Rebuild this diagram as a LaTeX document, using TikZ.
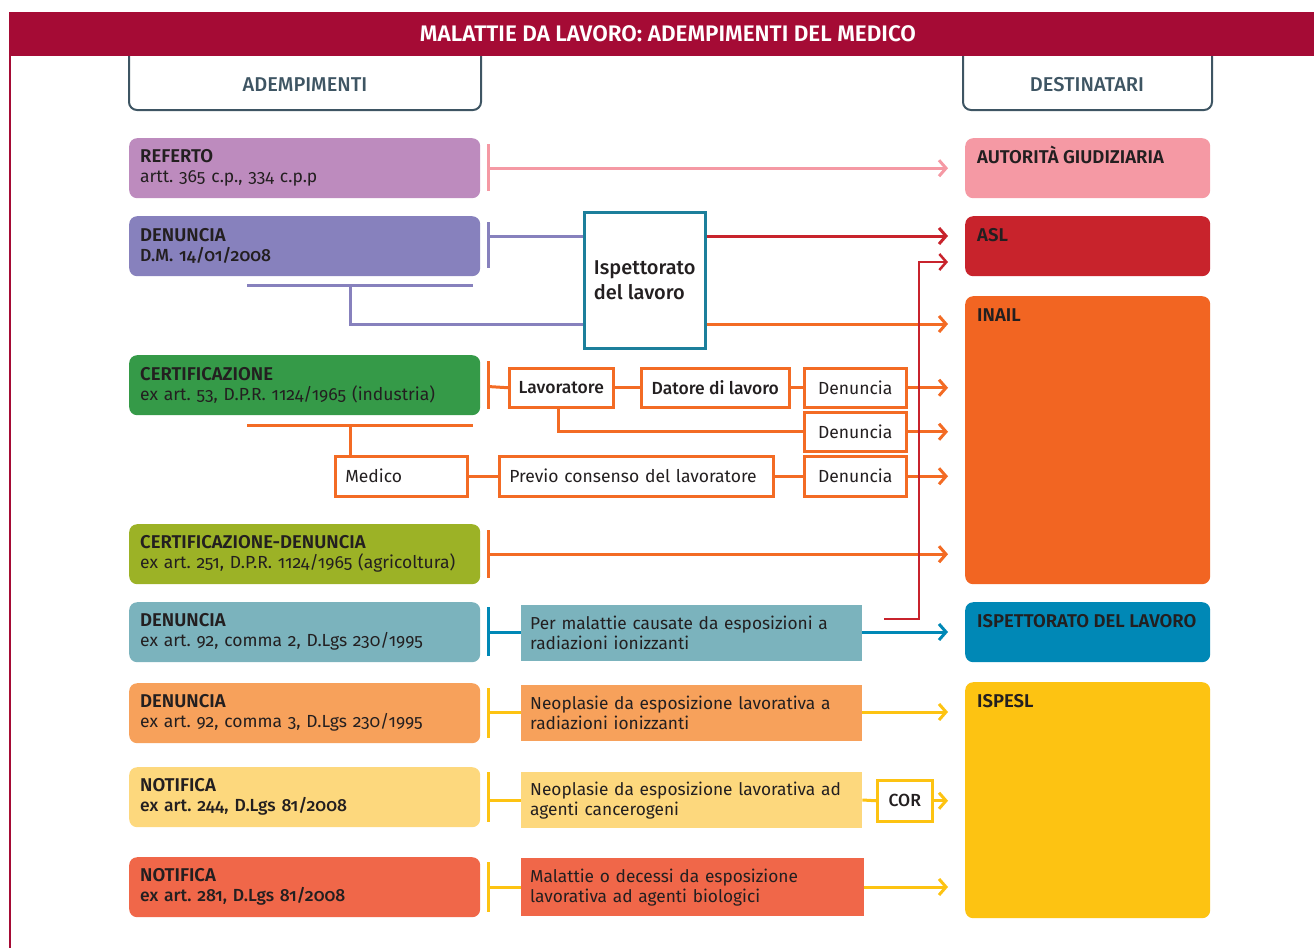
\documentclass[tikz,border=0pt]{standalone}
\usepackage{fontspec}
\IfFontExistsTF{Fira Sans SemiBold}{%
  \setmainfont{Fira Sans}[Numbers=OldStyle,BoldFont={Fira Sans SemiBold}]}{%
  \setmainfont{Fira Sans}[Numbers=OldStyle]}
\IfFontExistsTF{Fira Sans Medium}{%
  \newfontfamily\mdf{Fira Sans Medium}[Numbers=OldStyle]}{%
  \newfontfamily\mdf{Fira Sans}[Numbers=OldStyle,FakeBold=0.6]}
\usetikzlibrary{arrows.meta,calc}
\frenchspacing
\definecolor{titlered}{HTML}{A50B35}
\definecolor{slate}{HTML}{3E5563}
\definecolor{txt}{HTML}{231F20}
\definecolor{cRef}{HTML}{BD8BBE}
\definecolor{cDen}{HTML}{8781BD}
\definecolor{cCert}{HTML}{359A48}
\definecolor{cCertDen}{HTML}{9CB226}
\definecolor{cDenA}{HTML}{7BB3BD}
\definecolor{cDenB}{HTML}{F7A15B}
\definecolor{cNotA}{HTML}{FDD87D}
\definecolor{cNotB}{HTML}{F06749}
\definecolor{cAG}{HTML}{F599A4}
\definecolor{cASL}{HTML}{C8232C}
\definecolor{cINAIL}{HTML}{F26522}
\definecolor{cISP}{HTML}{0088B6}
\definecolor{cISPESL}{HTML}{FDC312}
\definecolor{cTeal}{HTML}{1C7F9B}
\definecolor{cOr}{HTML}{F36B24}
\newcommand{\bodyfont}{\fontsize{17.5}{20}\selectfont}
\newcommand{\headfont}{\fontsize{18.5}{20}\selectfont\bfseries}
\begin{document}
\frenchspacing
\begin{tikzpicture}[x=1pt,y=-1pt,
  every node/.style={inner sep=0pt, text=txt},
  lbox/.style={font=\bodyfont, rounded corners=8pt, anchor=north west,
    minimum width=351pt, minimum height=60pt, inner xsep=11pt, text width=329pt, align=left},
  rbox/.style={rounded corners=8pt, anchor=north west, minimum width=245pt},
  rtext/.style={font=\headfont, anchor=base west},
  mbox/.style={font=\fontsize{17.3}{20}\selectfont, anchor=north west, inner xsep=9pt, align=left, minimum height=56pt},
  obox/.style={font=\bodyfont, draw=cOr, line width=2.5pt, fill=white, anchor=north west,
    minimum height=39pt},
  bar/.style={line width=3pt},
  arr/.style={line width=3pt, -{Straight Barb[length=7pt,width=16pt]}, shorten >=17pt},
]
\useasboundingbox (0,0) rectangle (1314,948);
% title
\fill[titlered] (10,12) rectangle (1314,56);
\draw[titlered, line width=2pt] (10,12) -- (10,948);
\node[font=\fontsize{22.5}{26}\selectfont\bfseries, text=white] (title) at (668,34) {MALATTIE DA LAVORO: ADEMPIMENTI DEL MEDICO};
% headers
\draw[slate, line width=2pt, rounded corners=8pt] (129,56) -- (129,110) -- (481,110) -- (481,56);
\draw[slate, line width=2pt, rounded corners=8pt] (963,56) -- (963,110) -- (1212,110) -- (1212,56);
\node[font=\fontsize{20}{22}\selectfont\mdf, text=slate] (hA) at (305,85) {ADEMPIMENTI};
\node[font=\fontsize{20}{22}\selectfont\mdf, text=slate] (hD) at (1087,85) {DESTINATARI};
% left boxes
\node[lbox, fill=cRef] (ref) at (129,138) {{\headfont REFERTO}\\artt. 365 c.p., 334 c.p.p};
\node[lbox, fill=cDen] (dm) at (129,216) {{\headfont DENUNCIA}\\{\mdf D.M. 14/01/2008}};
\node[lbox, fill=cCert] (cert) at (129,355) {{\headfont CERTIFICAZIONE}\\ex art. 53, D.P.R. 1124/1965 (industria)};
\node[lbox, fill=cCertDen] (cd) at (129,524) {{\headfont CERTIFICAZIONE-DENUNCIA}\\ex art. 251, D.P.R. 1124/1965 (agricoltura)};
\node[lbox, fill=cDenA] (d2) at (129,602) {{\headfont DENUNCIA}\\ex art. 92, comma 2, D.Lgs 230/1995};
\node[lbox, fill=cDenB] (d3) at (129,683) {{\headfont DENUNCIA}\\ex art. 92, comma 3, D.Lgs 230/1995};
\node[lbox, fill=cNotA] (n244) at (129,767) {{\headfont NOTIFICA}\\{\mdf ex art. 244, D.Lgs 81/2008}};
\node[lbox, fill=cNotB] (n281) at (129,857) {{\headfont NOTIFICA}\\{\mdf ex art. 281, D.Lgs 81/2008}};
% right boxes
\node[rbox, fill=cAG, minimum height=60pt] (ag) at (965,138) {};
\node[rtext] (agt) at ($(ag.north west)+(12,25)$) {AUTORITÀ GIUDIZIARIA};
\node[rbox, fill=cASL, minimum height=60pt] (asl) at (965,216) {};
\node[rtext] (aslt) at ($(asl.north west)+(12,25)$) {ASL};
\node[rbox, fill=cINAIL, minimum height=288pt] (inail) at (965,296) {};
\node[rtext] (inailt) at ($(inail.north west)+(12,25)$) {INAIL};
\node[rbox, fill=cISP, minimum height=60pt] (ispl) at (965,602) {};
\node[rtext] (isplt) at ($(ispl.north west)+(12,25)$) {ISPETTORATO DEL LAVORO};
\node[rbox, fill=cISPESL, minimum height=236pt] (ispesl) at (965,682) {};
\node[rtext] (ispeslt) at ($(ispesl.north west)+(12,25)$) {ISPESL};
% ispettorato
\node[draw=cTeal, line width=2.5pt, fill=white, anchor=north west, minimum width=121pt, minimum height=136pt,
  font=\fontsize{20}{25}\selectfont\mdf, align=left] (isp) at (583,211) {Ispettorato\\del lavoro};
% orange boxes
\node[obox, minimum width=104pt, font=\bodyfont\mdf] (lav) at (508,367) {Lavoratore};
\node[obox, minimum width=148pt, font=\bodyfont\mdf] (dat) at (640,367) {Datore di lavoro};
\node[obox, minimum width=102pt] (den1) at (803,367) {Denuncia};
\node[obox, minimum width=102pt] (den2) at (803,411) {Denuncia};
\node[obox, minimum height=40pt, inner xsep=10pt, text width=112pt, align=left] (med) at (334,455) {Medico};
\node[obox, minimum height=40pt, inner xsep=10pt, text width=254pt, align=left] (prev) at (498,455) {Previo consenso del lavoratore};
\node[obox, minimum height=40pt, minimum width=102pt] (den3) at (803,455) {Denuncia};
% middle filled boxes
\node[mbox, fill=cDenA, text width=323pt] (m1) at (521,605) {Per malattie causate da esposizioni a\\radiazioni ionizzanti};
\node[mbox, fill=cDenB, text width=323pt] (m2) at (521,685) {Neoplasie da esposizione lavorativa a\\radiazioni ionizzanti};
\node[mbox, fill=cNotA, text width=323pt] (m3) at (521,772) {Neoplasie da esposizione lavorativa ad\\agenti cancerogeni};
\node[mbox, fill=cNotB, text width=325pt, minimum height=58pt] (m4) at (521,858) {Malattie o decessi da esposizione\\lavorativa ad agenti biologici};
\node[draw=cISPESL, line width=2.5pt, fill=white, anchor=north west, minimum width=55pt, minimum height=41pt,
  font=\bodyfont\mdf] (cor) at (876,779) {COR};
% ---- connectors
% row 1
\draw[cAG, bar] ($(ref.east)+(8,-24)$) -- ($(ref.east)+(8,23)$);
\coordinate (b1) at ($(ref.east)+(8,0)$);
\draw[cAG, arr] (b1) -- (b1 -| ag.west);
% row 2
\draw[cDen, bar] ($(dm.east)+(8,-24)$) -- ($(dm.east)+(8,22)$);
\coordinate (b2) at (488,236);
\draw[cDen, bar] (b2) -- (b2 -| isp.west);
\draw[cASL, arr] (b2 -| isp.east) -- (b2 -| asl.west);
\coordinate (u2a) at (247,285);
\coordinate (u2b) at (473,285);
\coordinate (u2c) at (350,285);
\coordinate (u2d) at (350,324);
\draw[cDen, bar] (u2a) -- (u2b);
\draw[cDen, bar] (u2c) -- (u2d) -- (u2d -| isp.west);
\draw[cOr, arr] (u2d -| isp.east) -- (u2d -| inail.west);
% row 3
\draw[cOr, bar] ($(cert.east)+(8,-24)$) -- ($(cert.east)+(8,24)$);
\coordinate (b3) at (488,386.5);
\draw[cOr, bar] (b3) -- (lav.west);
\draw[cOr, bar] (lav.east) -- (dat.west);
\draw[cOr, bar] (dat.east) -- (den1.west);
\draw[cOr, arr] (den1.east) -- (den1.east -| inail.west);
\draw[cOr, bar] ([xshift=-3pt]lav.south) |- (den2.west);
\draw[cOr, arr] (den2.east) -- (den2.east -| inail.west);
\coordinate (u3a) at (247,425);
\coordinate (u3b) at (473,425);
\coordinate (u3c) at (350,425);
\draw[cOr, bar] (u3a) -- (u3b);
\draw[cOr, bar] (u3c) -- (u3c |- med.north);
\draw[cOr, bar] (med.east) -- (prev.west);
\draw[cOr, bar] (prev.east) -- (den3.west);
\draw[cOr, arr] (den3.east) -- (den3.east -| inail.west);
% row 4
\draw[cOr, bar] ($(cd.east)+(8,-24)$) -- ($(cd.east)+(8,24)$);
\coordinate (b4) at ($(cd.east)+(8,0)$);
\draw[cOr, arr] (b4) -- (b4 -| inail.west);
% row 5
\draw[cISP, bar] ($(d2.east)+(8,-25)$) -- ($(d2.east)+(8,24)$);
\coordinate (b5) at (488,632);
\draw[cISP, bar] (b5) -- (b5 -| m1.west);
\draw[cISP, arr] (b5 -| m1.east) -- (b5 -| ispl.west);
\coordinate (r1) at (884,619);
\coordinate (r2) at (919,262);
\draw[cASL, line width=2.5pt, -{Straight Barb[length=7pt,width=16pt]}, shorten >=17pt] (r1) -| (r2) -- (r2 -| asl.west);
% row 6
\draw[cISPESL, bar] ($(d3.east)+(8,-25)$) -- ($(d3.east)+(8,25)$);
\coordinate (b6) at (488,712);
\draw[cISPESL, bar] (b6) -- (b6 -| m2.west);
\draw[cISPESL, arr] (b6 -| m2.east) -- (b6 -| ispesl.west);
% row 7
\draw[cISPESL, bar] ($(n244.east)+(8,-25)$) -- ($(n244.east)+(8,25)$);
\coordinate (b7) at (488,800);
\draw[cISPESL, bar] (b7) -- (b7 -| m3.west);
\draw[cISPESL, bar] (b7 -| m3.east) -- (cor.west);
\draw[cISPESL, arr] (cor.east) -- (cor.east -| ispesl.west);
% row 8
\draw[cISPESL, bar] ($(n281.east)+(8,-25)$) -- ($(n281.east)+(8,25)$);
\coordinate (b8) at (488,887);
\draw[cISPESL, bar] (b8) -- (b8 -| m4.west);
\draw[cISPESL, arr] (b8 -| m4.east) -- (b8 -| ispesl.west);
\end{tikzpicture}
\end{document}
